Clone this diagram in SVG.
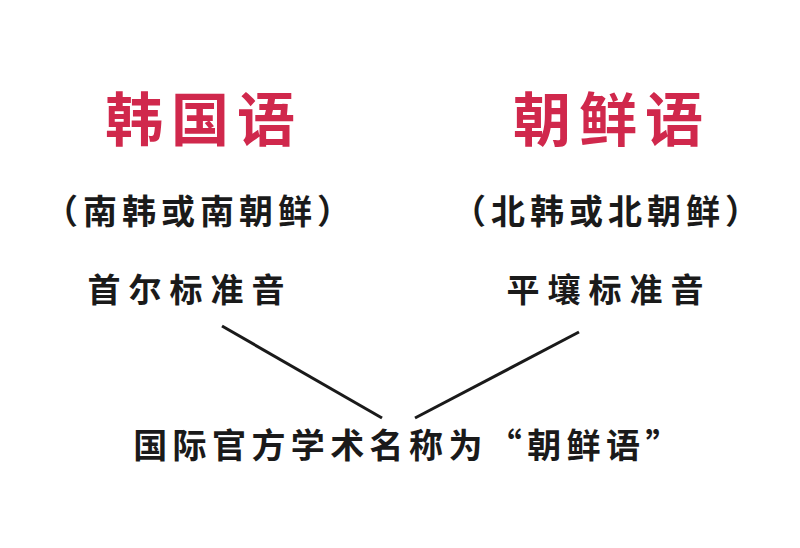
<svg xmlns="http://www.w3.org/2000/svg" width="800" height="548" viewBox="0 0 800 548">
<style>
text{font-family:"Noto Sans CJK SC","Noto Sans",sans-serif;font-weight:bold;text-anchor:middle}
.title{font-size:58px;fill:#d0284c;letter-spacing:8px}
.sub{font-size:34px;fill:#1a1a1a;letter-spacing:5px}
.std{font-size:33px;fill:#1a1a1a;letter-spacing:8px}
.bottom{font-size:34px;fill:#1a1a1a;letter-spacing:5.4px}
.conn{stroke:#1a1a1a;stroke-width:3;fill:none;stroke-linecap:butt}
</style>
<rect width="800" height="548" fill="#ffffff"/>
<g id="korean">
<text class="title" x="204" y="141">韩国语</text>
<text class="sub" x="200" y="224">（南韩或南朝鲜）</text>
<text class="std" x="190" y="302">首尔标准音</text>
</g>
<g id="chosun">
<text class="title" x="612" y="141">朝鲜语</text>
<text class="sub" x="608" y="224">（北韩或北朝鲜）</text>
<text class="std" x="609" y="302">平壤标准音</text>
</g>
<g id="official">
<text class="bottom" x="409" y="458">国际官方学术名称为“朝鲜语”</text>
</g>
<g id="connectors">
<line class="conn" x1="222" y1="326" x2="382" y2="418"/>
<line class="conn" x1="579" y1="332" x2="415" y2="418"/>
</g>
</svg>
